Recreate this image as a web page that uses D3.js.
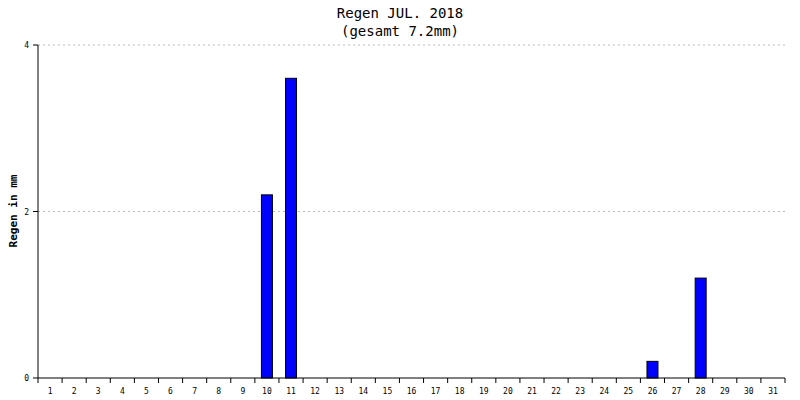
<!DOCTYPE html><html><head><script src="https://cdn.jsdelivr.net/npm/d3@7"></script>
<style>body{margin:0;background:#fff}</style></head><body><svg width="800" height="400"></svg><script>
const days = d3.range(1,32).map(String);
const rain = [0,0,0,0,0,0,0,0,0,2.2,3.6,0,0,0,0,0,0,0,0,0,0,0,0,0,0,0.2,0,1.2,0,0,0];
const yTicks = [0,2,4];
const svg = d3.select("svg");
const F = "'DejaVu Sans Mono', monospace";
const x = d3.scaleBand().domain(days).range([38,785]);
const y = d3.scaleLinear().domain([0,4]).range([378,45]);
svg.append("g").selectAll("line").data([2,4]).join("line")
 .attr("x1",38).attr("x2",785).attr("y1",d=>y(d)).attr("y2",d=>y(d))
 .attr("stroke","#bbb").attr("stroke-dasharray","2,3");
svg.append("g").selectAll("rect").data(rain).join("rect")
 .attr("x",(d,i)=>x(days[i])+x.bandwidth()/2-5.5).attr("width",11)
 .attr("y",d=>y(d)).attr("height",d=>y(0)-y(d))
 .attr("fill","#0000ff").attr("stroke","#000").attr("stroke-width",1)
 .style("display",d=>d>0?null:"none");
const xa = svg.append("g").attr("transform","translate(0,378)");
xa.append("line").attr("x1",38).attr("x2",785).attr("stroke","#000");
xa.selectAll("line.t").data(days.concat(["end"])).join("line").attr("class","t")
 .attr("x1",(d,i)=>38+i*x.step()).attr("x2",(d,i)=>38+i*x.step()).attr("y1",0).attr("y2",5).attr("stroke","#000");
xa.selectAll("text").data(days).join("text").attr("x",d=>x(d)+x.bandwidth()/2).attr("y",16)
 .attr("text-anchor","middle").attr("font-family",F).attr("font-size",8).text(d=>d);
const ya = svg.append("g");
ya.append("line").attr("x1",38).attr("x2",38).attr("y1",45).attr("y2",378).attr("stroke","#000");
ya.selectAll("line.t").data(yTicks).join("line").attr("class","t").attr("x1",33).attr("x2",38)
 .attr("y1",d=>y(d)).attr("y2",d=>y(d)).attr("stroke","#000");
ya.selectAll("text").data(yTicks).join("text").attr("x",29).attr("y",d=>y(d)+3).attr("text-anchor","end")
 .attr("font-family",F).attr("font-size",8).text(d=>d);
svg.append("text").attr("transform","translate(17,211) rotate(-90)").attr("text-anchor","middle")
 .attr("font-family",F).attr("font-size",11).attr("font-weight","bold").text("Regen in mm");
svg.append("text").attr("x",400).attr("y",18).attr("text-anchor","middle").attr("font-family",F).attr("font-size",14).text("Regen JUL. 2018");
svg.append("text").attr("x",400).attr("y",36).attr("text-anchor","middle").attr("font-family",F).attr("font-size",14).text("(gesamt 7.2mm)");
</script></body></html>
